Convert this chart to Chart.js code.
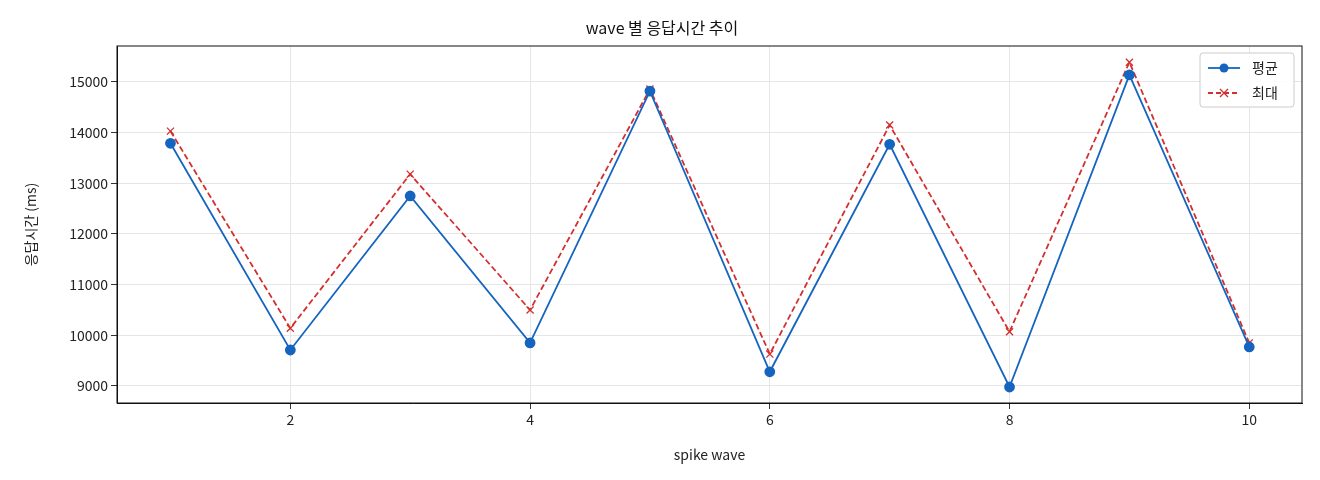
<!DOCTYPE html>
<html>
<head>
<meta charset="utf-8">
<script src="https://cdn.jsdelivr.net/npm/chart.js@4"></script>
<style>
  body { margin: 0; background: #fff; }
  #wrap { width: 1320px; height: 480px; }
</style>
</head>
<body>
<div id="wrap"><canvas id="c"></canvas></div>
<script>
const waves = [1, 2, 3, 4, 5, 6, 7, 8, 9, 10]
const avgMs = [13790, 9710, 12750, 9850, 14820, 9280, 13770, 8980, 15140, 9770]
const maxMs = [14030, 10140, 13180, 10500, 14860, 9630, 14150, 10070, 15390, 9850]
const yTicks = [9000, 10000, 11000, 12000, 13000, 14000, 15000]
const xTicks = [2, 4, 6, 8, 10]
const seriesNames = ['평균', '최대']
const BLUE = '#1565c0', RED = '#d32f2f'
const FONT = "'Noto Sans CJK KR', 'Noto Sans', sans-serif"

// legend box in the top-right corner, drawn like matplotlib's
const boxLegend = {
  id: 'boxLegend',
  afterDraw(chart) {
    const { ctx, chartArea: a } = chart
    const w = 94, h = 54, x = a.right - w - 8, y = a.top + 7
    ctx.save()
    ctx.fillStyle = 'rgba(255,255,255,0.85)'
    ctx.strokeStyle = '#ccc'
    ctx.lineWidth = 1
    ctx.beginPath(); ctx.roundRect(x, y, w, h, 3); ctx.fill(); ctx.stroke()
    const rows = [[BLUE, [], 'circle'], [RED, [5, 3], 'cross']]
    rows.forEach(([col, dash, mark], i) => {
      const cy = y + 15 + i * 25
      ctx.strokeStyle = col; ctx.fillStyle = col; ctx.lineWidth = 1.8
      ctx.setLineDash(dash)
      ctx.beginPath(); ctx.moveTo(x + 8, cy); ctx.lineTo(x + 40, cy); ctx.stroke()
      ctx.setLineDash([])
      if (mark === 'circle') {
        ctx.beginPath(); ctx.arc(x + 24, cy, 4.5, 0, Math.PI * 2); ctx.fill()
      } else {
        ctx.lineWidth = 1.3
        ctx.beginPath()
        ctx.moveTo(x + 20, cy - 4); ctx.lineTo(x + 28, cy + 4)
        ctx.moveTo(x + 28, cy - 4); ctx.lineTo(x + 20, cy + 4)
        ctx.stroke()
      }
      ctx.fillStyle = '#222'; ctx.font = `14px ${FONT}`; ctx.textBaseline = 'middle'
      ctx.fillText(seriesNames[i], x + 52, cy)
    })
    ctx.restore()
  }
}

new Chart(document.getElementById('c'), {
  type: 'line',
  data: {
    datasets: [
      {
        label: seriesNames[0],
        data: waves.map((w, i) => ({ x: w, y: avgMs[i] })),
        borderColor: BLUE, backgroundColor: BLUE, borderWidth: 1.8,
        pointRadius: 4.5, pointHoverRadius: 4.5, pointStyle: 'circle'
      },
      {
        label: seriesNames[1],
        data: waves.map((w, i) => ({ x: w, y: maxMs[i] })),
        borderColor: RED, backgroundColor: RED, borderWidth: 1.8, borderDash: [6, 3],
        pointRadius: 5, pointHoverRadius: 5, pointStyle: 'crossRot', pointBorderWidth: 1.3
      }
    ]
  },
  options: {
    responsive: true,
    maintainAspectRatio: false,
    animation: false,
    layout: { padding: { left: 22, right: 18, top: 0, bottom: 17 } },
    plugins: {
      legend: { display: false },
      tooltip: { enabled: false },
      title: {
        display: true, text: 'wave 별 응답시간 추이', color: '#111',
        font: { family: FONT, size: 16, weight: 'normal' },
        padding: { top: 18, bottom: 8.8 }
      }
    },
    scales: {
      x: {
        type: 'linear', min: 0.554, max: 10.44,
        afterBuildTicks: s => { s.ticks = xTicks.map(v => ({ value: v })) },
        afterFit: s => { s.height = 60 },
        grid: { color: '#e6e6e6', tickColor: '#333', tickLength: 6 },
        border: { color: '#111' },
        ticks: { color: '#222', padding: 2, font: { family: FONT, size: 14 } },
        title: { display: true, text: 'spike wave', color: '#222', padding: 0, font: { family: FONT, size: 14 } }
      },
      y: {
        min: 8664, max: 15710,
        afterBuildTicks: s => { s.ticks = yTicks.map(v => ({ value: v })) },
        afterFit: s => { s.width = 95 },
        grid: { color: '#e6e6e6', tickColor: '#333', tickLength: 6 },
        border: { color: '#111' },
        ticks: { color: '#222', padding: 3, callback: v => String(v), font: { family: FONT, size: 14 } },
        title: { display: true, text: '응답시간 (ms)', color: '#222', padding: 0, font: { family: FONT, size: 14 } }
      }
    }
  },
  plugins: [boxLegend, {
    id: 'frame',
    afterDraw(chart) {
      const { ctx, chartArea: a } = chart
      ctx.save(); ctx.strokeStyle = '#111'; ctx.lineWidth = 1
      ctx.strokeRect(a.left, a.top, a.right - a.left, a.bottom - a.top)
      ctx.restore()
    }
  }]
})
</script>
</body>
</html>
